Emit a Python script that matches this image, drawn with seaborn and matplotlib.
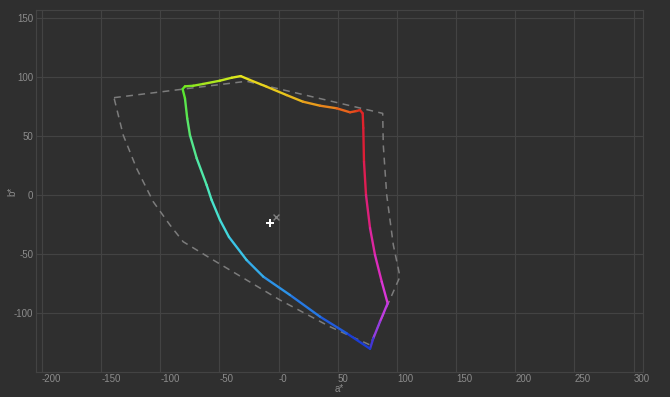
import numpy as np
import pandas as pd
import matplotlib
matplotlib.use("Agg")
import matplotlib.pyplot as plt
from matplotlib.collections import LineCollection
from matplotlib.colors import LinearSegmentedColormap
import seaborn as sns

# measured gamut boundary (a*, b*), walking round from the green corner
gamut_a = [-81.1, -79.1, -72.1, -63.9, -49.5, -39.6, -32.0, -24.2, -10.1, 6.8,
           20.6, 35.0, 49.1, 60.4, 66.0, 68.8, 71.1, 71.6, 72.2, 73.9,
           77.3, 81.5, 87.2, 92.2, 85.7, 80.1, 77.3, 57.6, 35.0, 9.6,
           -12.9, -27.0, -41.9, -49.5, -56.6, -60.8, -69.2, -74.9, -77.2, -79.1,
           -81.1]
gamut_b = [89.8, 92.1, 92.6, 94.1, 96.9, 99.4, 100.8, 97.5, 91.8, 84.7,
           79.1, 75.7, 73.5, 70.1, 71.2, 72.0, 69.2, 56.8, 28.2, 0.0,
           -28.0, -50.8, -73.5, -91.8, -107.4, -121.4, -130.3, -117.2, -103.1, -84.7,
           -69.2, -55.1, -35.6, -21.2, -4.2, 8.5, 31.1, 50.8, 65.0, 81.9,
           89.8]

# reference gamut (dashed outline)
ref_a = [-139.1, -27.0, 88.0, 88.5, 91.4, 97.0, 102.6, 92.7, 77.3, 43.4,
         1.2, -55.2, -80.6, -91.8, -105.9, -120.0, -131.3, -139.1]
ref_b = [82.5, 96.4, 69.2, 42.4, 0.0, -42.4, -69.2, -91.8, -127.1, -111.6,
         -89.0, -55.1, -39.6, -25.4, -5.7, 22.6, 50.8, 82.5]

# white point markers
target_wp = (-7.3, -23.7)
measured_wp = (-2.2, -18.6)

x_ticks = [-200, -150, -100, -50, 0, 50, 100, 150, 200, 250, 300]
x_tick_labels = ["-200", "-150", "-100", "-50", "-0", "50", "100", "150", "200", "250", "300"]
y_ticks = [-100, -50, 0, 50, 100, 150]
y_tick_labels = ["-100", "-50", "0", "50", "100", "150"]

# colour anchors along the boundary (vertex index, colour)
hue_stops = [(0, "#5ae622"), (6, "#e8e81c"), (9, "#e8c21c"), (11, "#e8901c"),
             (13, "#e85a1c"), (15, "#e02a1c"), (18, "#dd1c3a"), (19, "#dd1e6a"),
             (21, "#dd28b0"), (23, "#d83ae0"), (25, "#7a3ee0"), (26, "#1a30d0"),
             (27, "#1c4ad8"), (28, "#2266e0"), (29, "#2a88e6"), (31, "#36b4ea"),
             (32, "#40d2e4"), (34, "#4ae6c8"), (36, "#52e8a0"), (38, "#5ae660"),
             (40, "#5ae622")]

bg = "#2f2f2f"
grid_col = "#434343"
text_col = "#8c8c8c"

sns.set_theme(style="darkgrid")
plt.rcParams.update({
    "figure.facecolor": bg,
    "axes.facecolor": bg,
    "axes.edgecolor": grid_col,
    "grid.color": grid_col,
    "grid.linewidth": 0.8,
    "xtick.color": text_col,
    "ytick.color": text_col,
    "axes.labelcolor": text_col,
    "font.size": 7,
})
plt.rcParams["font.family"] = ["Liberation Sans", "DejaVu Sans"]

fig = plt.figure(figsize=(6.7, 3.97), dpi=100)
ax = fig.add_axes([36 / 670, 1 - 372 / 397, 607 / 670, 362 / 397])

df_ref = pd.DataFrame({"a": ref_a, "b": ref_b})
sns.lineplot(data=df_ref, x="a", y="b", sort=False, estimator=None, ax=ax,
             color="#7c7c7c", linewidth=1.1, dashes=False, zorder=2)
ax.lines[-1].set_dashes([4.5, 3.5])

n = len(gamut_a) - 1
cmap = LinearSegmentedColormap.from_list("hue", [(i / n, c) for i, c in hue_stops])
pts = np.column_stack([gamut_a, gamut_b])
segs = np.stack([pts[:-1], pts[1:]], axis=1)
seg_cols = [cmap((i + 0.5) / n) for i in range(n)]
lc = LineCollection(segs, colors=seg_cols, linewidths=1.7, capstyle="round",
                    joinstyle="round", zorder=3)
ax.add_collection(lc)

sns.scatterplot(x=[measured_wp[0]], y=[measured_wp[1]], marker="x", s=18,
                color="#808080", linewidth=1.0, ax=ax, zorder=4)
sns.scatterplot(x=[target_wp[0]], y=[target_wp[1]], marker="+", s=40,
                color="white", linewidth=1.4, ax=ax, zorder=5)

ax.set_xlim(-205, 308)
ax.set_ylim(-150, 156.8)
ax.set_xticks(x_ticks)
ax.set_xticklabels(x_tick_labels)
ax.set_yticks(y_ticks)
ax.set_yticklabels(y_tick_labels)
for lbl in ax.get_xticklabels():
    lbl.set_ha("left")
ax.tick_params(axis="both", length=0, labelsize=7)
ax.tick_params(axis="x", pad=1.5)
ax.tick_params(axis="y", pad=2)

ax.set_xlabel("a*", fontsize=7, labelpad=0)
ax.set_ylabel("b*", fontsize=7, va="center")
ax.yaxis.set_label_coords(-24 / 607, 0.5)

for s in ax.spines.values():
    s.set_visible(True)
    s.set_color(grid_col)
    s.set_linewidth(0.8)

fig.savefig("out.png", dpi=100, facecolor=bg)
